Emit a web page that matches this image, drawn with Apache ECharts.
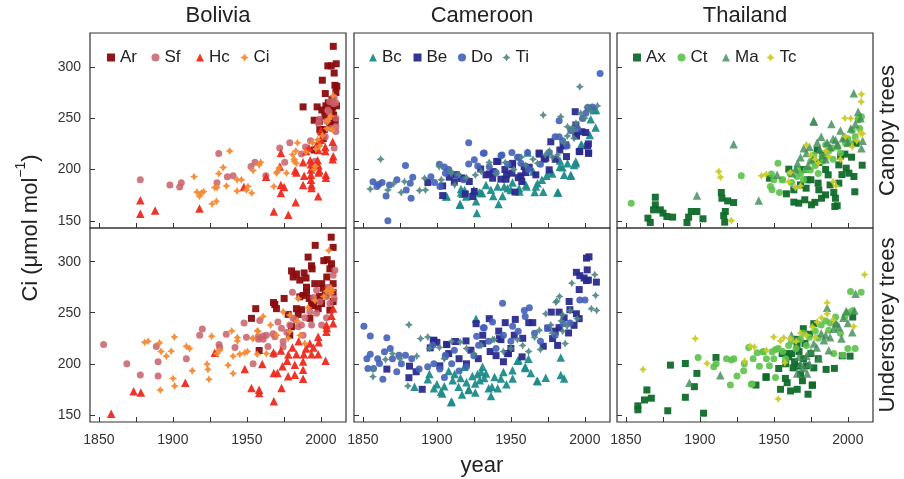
<!DOCTYPE html>
<html>
<head>
<meta charset="utf-8">
<script src="https://cdn.jsdelivr.net/npm/echarts@6/dist/echarts.min.js"></script>
<style>html,body{margin:0;padding:0;background:#fff}#c{width:904px;height:479px}</style>
</head>
<body>
<div id="c"></div>
<script>
// ---------- DATA ----------
const countries = ['Bolivia', 'Cameroon', 'Thailand'];
const rowLabels = ['Canopy trees', 'Understorey trees'];
const xTickValues = [1850, 1875, 1900, 1925, 1950, 1975, 2000];
const xLabelValues = [1850, 1900, 1950, 2000];
const yTickValues = [150, 200, 250, 300];

const bolivaNames = ['Ar', 'Sf', 'Hc', 'Ci'];
const cameroonNames = ['Bc', 'Be', 'Do', 'Ti'];
const thailandNames = ['Ax', 'Ct', 'Ma', 'Tc'];

// Bolivia canopy
const bolCanAr = [[2008.4,320],[2004.7,301],[2007,301],[2010.4,303],[2009,294],[2001,287],[2003,274],[2009.5,282],[2010.8,281],[2007.5,268],[1988,261],[1997.5,261],[2003.4,262],[2008,261],[2010.6,262],[2000.7,258],[1995.5,248],[1999,247],[2002.7,252],[1999.3,239],[2002.3,239],[2000.7,236],[1995.5,219],[2008.6,253],[2009.7,247],[2007.5,258],[2010.2,275],[2001.6,230],[2005,265],[2006,245]];
const bolCanSf = [[1878,190],[1898,185],[1905.7,187],[1904.6,183],[1931,215.5],[1929.8,187],[1936.8,193],[1940.7,194],[1952.8,203],[1955.5,207],[1962.8,194],[1972.2,221],[1975.6,207],[1979,226],[1986.9,215],[1989.6,222],[1998.4,245],[1999,249],[2004.7,258],[2009,270],[2010.2,265],[2008.6,264],[2010.2,250],[2010.2,242],[2010.2,237],[2009,221],[2005.6,256],[2004,247],[1996,208],[1999,226],[2003,232],[2007,240],[1993,228],[2006,266]];
const bolCanHc = [[1878,170],[1878,157],[1888,160],[1918,162],[1948,183],[1963,193],[1968.2,159],[1973,216],[1973,185],[1975.2,183],[1973,177],[1978,156],[1983,168],[1972.3,203],[1982.6,199],[1983.5,197],[1988.7,194],[1988,207],[1988,185],[1992.8,209],[1993.3,205],[1993.3,200],[1993.3,195],[1993.3,190],[1993.7,185],[1993.7,182],[1997.8,209],[1998.4,204],[1998.4,197],[1998.2,174],[2003,222],[2003,218],[2003.4,195],[2003.4,192],[2008,210],[2008.4,213],[2008,227],[2000,238],[1998.2,219],[2000,229],[1997.8,226],[1992,221],[1990,218],[1999,199]];
const bolCanCi = [[1914.3,193],[1916.3,178],[1918,174],[1919.2,177],[1920.8,178.5],[1926.5,166.5],[1929.4,169],[1928.3,182.5],[1929.8,182.5],[1931,196],[1934,202],[1938.4,218],[1936.2,184],[1943.4,179],[1943.4,190],[1946.3,190],[1949.7,180],[1950.8,183.5],[1953.3,177],[1954.2,199],[1958.3,204.5],[1959.4,207],[1968.2,183.5],[1970,196.5],[1970.7,198],[1971.8,201.5],[1976.8,196.5],[1984.2,226],[1983.1,218],[1980.8,214.5],[1982,210],[1982,208],[1983.5,206],[1989.9,217],[1994.4,226],[1996.6,220],[1997.8,229],[1995.5,200],[1996.2,203],[1999.3,223],[2004.5,247],[2005.2,249],[2006.8,252],[2008.4,272],[2007.9,239],[2001,233],[2004,240]];

// Bolivia understorey
const bolUndAr = [[2007,324],[2008.3,314],[1996.2,316],[1991.4,304.5],[1993.7,296],[1994.1,293],[2002,301],[2004.3,302],[2006.1,293],[2007.2,298],[1980.2,291],[1981.3,285],[1983.5,288],[1988.7,289],[1985.8,282],[1990.3,275],[1990.3,270],[1995.9,278.5],[2000.5,278.5],[2001.6,274],[2008.3,278.5],[2008.3,270],[1997,262],[2000.5,259],[1998.2,254],[2006.1,252.6],[1975.2,264],[1968.9,258],[1970,254],[1956,254],[1953.1,244.5],[1977.9,248.4],[1983.5,254],[1984.7,248.4],[1992.1,264],[1993.7,259],[1985.8,265.6],[1979,228],[1958.3,213],[1980.2,236.4],[1992.6,244.5],[2008.3,261],[1988,267],[1968,260],[1999,266],[2003,268],[1995,257],[1987,253],[2004,285],[1990,284]];
const bolUndSf = [[1853.2,219],[1868.9,200],[1878,189],[1888.8,217],[1890,202],[1890,188],[1909.1,205],[1919.9,234],[1918.1,228],[1931.2,219],[1931.6,216],[1936.1,229],[1942,216],[1948.1,240],[1949.7,226],[1954.2,200],[1957.8,224],[1958.7,242.5],[1961,224],[1963.2,228],[1964.3,217],[1968.2,209],[1967.7,229.5],[1974.5,216.6],[1957.6,226.6],[1961,227.3],[1968.9,226.6],[1973.4,234.7],[1979,238],[1981.3,244.5],[1984.7,236.4],[1986.9,238],[1989.2,245],[1992.6,251],[1997.1,249.4],[2000.5,238],[2003.8,245],[2006.1,259],[2009.5,291.5],[2008.3,286.7],[1997.1,272],[2003.8,265.6],[1999.3,260.7],[1974.5,221.8],[1980.8,270],[1993.7,238],[1988,228],[1977,231],[1983,243],[2005,275],[2009,264],[1995,265],[1971,241]];
const bolUndHc = [[1858.3,151],[1873.5,173],[1878.4,172],[1908.4,181.5],[1928.3,210.7],[1948.6,195],[1960.4,199.7],[1953.1,176.3],[1958.3,174.7],[1958.3,171.4],[1968.2,163.3],[1968.2,191],[1970.7,191],[1973.4,176.3],[1974.1,197.7],[1977.9,187.7],[1982.4,189.3],[1982.4,199],[1988,194.2],[1988,185.4],[1977.2,203],[1983.5,209.4],[1988.5,209.4],[1993.7,209.4],[1998.2,209.4],[1992.6,220],[1998.6,221],[2003.2,203],[2003.8,231.5],[2008.3,239.6],[2007.2,247],[2008.3,254.2],[2003.8,238],[1998.2,226.6],[1980.8,216],[1988,202.3],[1968,211],[1990,215],[1985,222],[1995,216],[2004,235],[1978,209],[1973,213]];
const bolUndCi = [[1880.9,221],[1883.2,222],[1891,220.5],[1892,212],[1891.5,174.4],[1895.6,207.5],[1898.9,212.4],[1901,226.3],[1900.1,185.7],[1901.2,178.3],[1909.1,217.2],[1911.3,215],[1913.1,193.2],[1923.1,199.7],[1923.7,194.5],[1924.4,184.8],[1926.2,227],[1929.8,210],[1931.6,213.3],[1937.3,198.7],[1939.8,232.2],[1940.7,207.5],[1940.7,190.6],[1943.6,222.4],[1943.6,225.7],[1945.2,209.4],[1948.6,210.7],[1950.4,212],[1954.2,224.7],[1957.6,231.8],[1961,246.4],[1963.2,210],[1957,232.2],[1957,209.4],[1953.8,225],[1974.5,251],[1979,247.7],[1984.7,264],[1984,242],[1977.9,225],[1991.4,255],[2003.8,271],[2006.8,274.4],[2007.9,272],[2005.4,311],[2006.8,268.8],[1989.2,220],[1979,231.5],[1970,228],[1966,238],[1996,262],[1986,228],[2002,266]];

// Cameroon canopy
const camCanBc = [[1906.7,174],[1915.7,166.5],[1927,157.5],[1926.5,169],[1930.5,177],[1941.7,166.5],[1938.1,174.3],[1916.4,177.6],[1918.7,180],[1919.8,173.7],[1928.7,177.6],[1933.2,185],[1944.4,174.3],[1945.5,183.4],[1951.1,187.3],[1955.8,178.5],[1960.2,185],[1966.1,178],[1971.9,178.2],[1982,177.6],[1916.3,181],[1917.4,176.3],[1915.6,165.6],[1929.8,177],[1936.5,180.2],[1941,183.5],[1947.8,181.8],[1955.6,181.8],[1960.6,183.5],[1961.3,216.5],[1965.1,198],[1966.9,183.5],[1968,186.7],[1974.1,193.8],[1975.9,198],[1981.5,177.6],[1983.1,208.7],[1984.9,202.2],[1986,194.8],[1990.5,193.8],[1992.7,204.5],[1993.9,206],[1997.9,224],[2003.3,233.7],[2007.3,241],[2006.2,258],[2004,249],[2007.6,258],[1997.4,224],[1993.9,207.7],[1990.5,194.7],[1988.3,206],[1983.1,202.8],[1906.2,173.7],[1925,180],[1950,180],[1971,190],[1978,196],[1958,190]];
const camCanBe = [[1893.9,187.3],[1903.9,174.6],[1903.9,184],[1908.4,192.5],[1911.8,188],[1917,191.6],[1919.2,176.3],[1924.2,173.7],[1929.6,200.5],[1941.3,208],[1935.4,195.7],[1946.7,190.5],[1952.8,178],[1951.2,206],[1959,202.8],[1969.2,215],[1972.5,210],[1977,227],[1987.1,224],[1987.6,212.6],[1993.5,256.3],[1994.4,232.6],[1998,236.8],[1996.2,217.4],[2001.9,223],[2002.6,215.8],[1916.3,191.5],[1921.9,188.3],[1925.3,178.6],[1933.2,194.8],[1937.7,191.5],[1940.4,207.8],[1943.3,190.6],[1947.1,194.8],[1951.1,204.5],[1950.7,196.4],[1956.8,193.8],[1957.4,188.3],[1962.4,202.2],[1966.9,194.8],[1969.1,216],[1973.6,211],[1975.9,199.7],[1983.1,219],[1985.3,223],[1993.9,243.4],[1993.9,233.7],[1996.6,217.5],[2000.6,236],[2002.4,225],[2002.4,216],[1960,197],[1946,200],[1938,198],[1980,210],[1913,195],[1955,192]];
const camCanDo = [[1856.8,188],[1860.8,185.6],[1863,187.3],[1859.5,183.4],[1868,185],[1865.7,174.3],[1866.9,150],[1878.8,204],[1882,186.7],[1883.7,192.5],[1879.3,180],[1882.6,172],[1898.4,187.3],[1901.7,205],[1905.1,202.4],[1905.8,196.3],[1902.1,183.4],[1914,194.7],[1921.5,226],[1921.5,205.4],[1927.6,203.5],[1931.4,215.8],[1935.4,202.8],[1944,214.2],[1950.7,216.5],[1955.6,212],[1956.8,206],[1961.3,216.5],[1975.9,216.5],[1982.6,232],[1982.6,247.5],[1990.5,237.8],[1998.4,249.8],[2001.9,260.5],[2005.2,261],[2010.3,293.5],[1925.3,209.4],[1932,216],[1943.3,213.6],[1954.5,212],[1979.9,232],[2000.6,254.7],[2002.8,259.6],[1985,228],[1995,240],[1988,223],[1970,205],[1962,200],[1948,205],[1940,197],[1918,190],[1896,193],[1873,190],[1908,200]];
const camCanTi = [[1855,181],[1862,210],[1866.9,180],[1870.7,186],[1875.9,177.6],[1878.1,188.2],[1888.3,179.5],[1892.3,180],[1891.7,191.5],[1901.7,202.8],[1909.6,196.3],[1926,194.7],[1946.2,206.7],[1971.9,253],[1973.3,214.2],[1983.7,251.4],[1988.3,241.7],[1992.1,237.8],[1997.2,254.7],[2008.5,262],[1996.6,280.6],[1991.6,241],[2001.7,260.6],[1992.7,230.4],[1988.2,232.7],[1981.5,214.2],[1935.4,206.8],[1909.6,198],[1903,190],[1915,195],[1920,192],[1930,198],[1940,196],[1952,200],[1960,204],[1965,210],[1968,206],[1976,218],[1978,212],[1986,226],[1994,245],[2000,250],[2004,257],[1957,212],[1912,185]];

// Cameroon understorey
const camUndBc = [[1884.9,177.6],[1893.9,184.8],[1903.6,171],[1910,163],[1921.6,174.4],[1926.5,244],[1935,176],[1936.6,168.5],[1941.1,176],[1951.2,185.7],[1954.5,203],[1959.8,196],[1968.1,183],[1973.6,186.3],[1983.7,206.2],[1983.7,189],[1986,185.7],[1909.6,162.3],[1902.8,172.7],[1910.7,184],[1914.7,177.6],[1918.5,197],[1921.5,175],[1925.9,180.8],[1927.5,190],[1930.9,197],[1933.2,190.6],[1937.2,177.6],[1943.3,185.7],[1951.1,193.8],[1955.2,203.6],[1959.7,197],[1961.9,205],[1963.5,191],[1967.7,183.4],[1895,190],[1900,180],[1905,178],[1912,190],[1916,186],[1920,182],[1924,188],[1929,184],[1932,186],[1939,187],[1945,192],[1947,180],[1898,176],[1908,193],[1917,170],[1926,172],[1930,192]];
const camUndBe = [[1866.2,194.8],[1881.5,197.7],[1881.1,186.4],[1886,192.2],[1890.1,175],[1895.5,215.6],[1898,223],[1900,221],[1906.7,218.8],[1912.6,221.8],[1919.7,222.4],[1926.5,239.3],[1931,228],[1931,219.8],[1935.4,244.2],[1941.8,232],[1942.3,224.7],[1946.2,240.3],[1947.8,210],[1953,243.5],[1957.6,206.8],[1962.1,240.3],[1964.8,240.3],[1971.9,217.2],[1977.3,250.6],[1978.2,224.7],[1981.6,218],[1982.6,235.4],[1989.4,261],[1989.9,253],[1989,230.2],[1992.7,237.7],[1994.3,249],[1996.2,244.2],[1994.3,289.6],[1996.6,286.3],[1999.5,284],[2001.1,303.5],[2002.8,304.8],[2001.6,292],[2001.1,281.5],[1996.2,272.7],[2002.4,282],[2007.8,280],[1897.6,223],[1906.6,219],[1923,213.3],[1943.3,223.7],[1948.4,210],[1952.3,228],[1982.6,250.6],[1902,198],[1908,210],[1915,205],[1920,200],[1928,205],[1936,212],[1940,208],[1945,202],[1950,215],[1958,225],[1975,235],[1980,232],[1986,245]];
const camUndDo = [[1850.7,236.7],[1855,227.3],[1852.7,205],[1855,209.4],[1853.4,195.5],[1857.2,195.5],[1861.2,200.3],[1863.5,184.8],[1866.2,225.6],[1864.6,211.7],[1868.5,215],[1872.9,192.2],[1874.4,208.4],[1878.8,208.4],[1897.2,218.2],[1905.8,208.4],[1926.9,227],[1931.4,235.4],[1944.4,259.4],[1951.2,236.7],[1959.1,252.3],[1962.5,255],[1996.6,262.6],[1932,235.4],[1937.6,241],[1928.2,218.2],[1911.8,213.3],[1905.7,206.8],[1893.8,197],[1905.1,186.7],[1950,222],[1959.7,246.4],[1985.3,239.3],[2000.1,262.6],[1870,205],[1876,200],[1883,205],[1888,195],[1898,200],[1902,195],[1910,200],[1915,193],[1920,197],[1925,208],[1935,222],[1940,215],[1945,228],[1955,232],[1966,230],[1970,222],[1975,235],[1980,228],[1990,240],[1860,205]];
const camUndTi = [[1856.8,194.5],[1856.8,187.4],[1865.3,204.2],[1880.4,178.3],[1881.1,238.3],[1886.4,207.5],[1889,224.7],[1893.9,226.3],[1901.7,216],[1915.7,221.4],[1937.7,223.7],[1954.5,223.7],[1969.2,232.8],[1973.6,249],[1981.1,261.4],[1982.9,266],[1986.7,219.8],[1991.2,279],[1994.9,244.2],[2006.7,287.3],[2007.3,267],[2004.4,254],[2008,252.3],[1938.8,223.7],[1980.4,260.4],[1870,210],[1875,205],[1895,215],[1905,205],[1910,222],[1920,215],[1925,210],[1930,218],[1945,212],[1950,215],[1958,218],[1962,212],[1966,226],[1977,238],[1984,242],[1985,232],[1988,237],[1978,230],[1985,248],[1970,214],[1990,252]];

// Thailand canopy
const thaCanAx = [[1864.9,152.6],[1866.5,148.4],[1868.7,160.7],[1869.9,165.6],[1869.9,173],[1873.3,160.7],[1875.1,157.5],[1877.7,154.2],[1881.6,153.6],[1891.3,148.4],[1892.4,153.6],[1894.2,159.1],[1898,159.1],[1902.1,152],[1914.5,177.6],[1914.9,172],[1916.1,155],[1917.2,159.1],[1916.8,148.7],[1918.8,169.4],[1922.8,167.8],[1947,191.5],[1960.1,200.3],[1963.5,180.2],[1958.5,176.3],[1963.5,168.2],[1966.8,167.2],[1970.9,170.5],[1971.8,181.8],[1975.4,165.6],[1977.7,168],[1979.9,186.7],[1980.4,180.2],[1982.2,172],[1984.9,175.3],[1986.7,194.8],[1990.5,177.6],[1991.6,172],[1991.2,164],[1992.8,164.7],[1993.9,186.7],[1993.9,204.5],[1995.1,212.6],[1998.9,201.3],[2000.7,196.4],[2004.1,193.2],[2002.5,212],[2005.6,225.5],[2009.7,204.2],[2004.7,178.3],[1972.5,190],[1980.4,206.8],[1979.3,219],[1968,185],[1975,190],[1985,200],[1988,185],[1996,195],[1970,200],[1983,215],[1998,215]];
const thaCanCt = [[1853.6,167.2],[1928,193.8],[1952.8,206],[1948.4,195.7],[1947.7,183.4],[1953.8,177.6],[1955.6,190],[1962,187.3],[1950,190],[1948.8,180.2],[1956,190],[1965.7,193.2],[1974.7,199.6],[1982.6,212.6],[1985.3,213.2],[1989.4,220.7],[1998.4,225.6],[2001.8,225],[2007,248.2],[2009.2,251.5],[2007,249.7],[1968,196],[1970,190],[1972,200],[1975,208],[1978,204],[1980,196],[1983,208],[1987,218],[1990,210],[1993,222],[1995,216],[2000,230],[2003,238],[2005,232],[1966,200],[1961,196],[1977,214],[1985,224],[2008,240]];
const thaCanMa = [[1898,174.6],[1922.8,224.5],[1939.8,169.8],[1976.9,247.5],[1988.9,244.3],[2004,274.4],[1952.2,194.8],[1964.6,200.3],[1970.2,220.7],[1977,246.6],[1979.3,226.2],[1986,226.2],[1991.7,228.8],[1996.6,230.4],[2007,256.3],[2008.6,250],[2009.2,220.7],[1962.3,196.4],[1968,212],[1972,216],[1974,222],[1976,210],[1981,220],[1983,214],[1985,210],[1988,222],[1990,230],[1993,224],[1995,238],[1998,232],[2000,226],[2002,240],[2005,244],[2010,228],[1973,204],[1966,206],[1982,232]];
const thaCanTc = [[1912.8,198],[1913.9,192.5],[1921.3,150.3],[1941.6,193.8],[1944.7,195.4],[1961.2,197],[1964.6,182.5],[2001.9,249.8],[2009.2,273.3],[2009,266],[1998,250],[1998.4,232],[2008.6,235.3],[1960,188],[1968,184],[1972,224],[1975,214],[1978,210],[1980,206],[1985,218],[1987,213],[1990,188],[1992,184],[1995,210],[2003,222],[2006,228],[2010,235]];

// Thailand understorey
const thaUndAx = [[1858.1,155],[1858.1,158.8],[1862.6,164.6],[1864.2,174.4],[1867.2,166.3],[1878.3,154],[1880.1,198.7],[1890.2,200.3],[1890.2,167.2],[1896.3,177.6],[1898,190.6],[1902.5,151.6],[1910.9,206.2],[1937.9,179.2],[1944.8,187.4],[1954.5,175],[1959,181.5],[1961.3,173.4],[1965.8,175],[1969.3,183.4],[1973.1,170.2],[1976.1,179.2],[1969.9,234.4],[1977,239.3],[1990.9,195.5],[2001.5,207.5],[2003.3,245.8],[1955.6,210],[1960.1,206.8],[1965.7,217.2],[1966.4,197.7],[1974.1,229],[1957.8,185.7],[1944.7,186.7],[1975.9,179],[1985.3,194.5],[1996.2,207.8],[1953.3,195.4],[1958,200],[1962,210],[1964,202],[1967,212],[1970,205],[1972,198],[1975,210],[1971,220],[1968,190],[1963,196],[1977,196],[1980,205],[1958,210],[1966,224]];
const thaUndCt = [[1898.8,206.2],[1909.4,197],[1921.3,203.6],[1920.6,179.2],[1925.1,188],[1929.6,193.2],[1934.8,180],[1933,215.9],[1938.7,210.7],[1943.2,211.7],[1951.1,214],[1991.7,245.8],[2001.8,270.8],[2009,270.1],[2004.9,215],[1996.4,208.4],[1987.1,232.8],[1948.8,211.7],[1942.5,211.7],[1940.2,197.7],[1935.3,180.2],[1951.1,186.7],[1990.5,210],[2000,215],[1911,200],[1918,205],[1923,205],[1930,200],[1936,205],[1945,205],[1947,198],[1953,215],[1956,212],[1960,218],[1962,222],[1965,215],[1968,224],[1970,230],[1974,226],[1978,232],[1982,238],[1985,242],[1988,240],[1992,238],[1995,230],[1998,246],[2000,250],[2003,252],[1958,205],[1950,205],[1972,218],[1980,225]];
const thaUndMa = [[1892.9,181.5],[1913.8,188.9],[1986,255],[2004.4,252.3],[2003,231],[2005.2,268.5],[1961.9,228],[1972.5,190.6],[1965.7,190.6],[1980.4,205.2],[1983.8,223],[1987.1,213.3],[1990.5,234.4],[1995.7,224.7],[1998.9,251.6],[1968,200],[1970,196],[1972,208],[1975,212],[1977,220],[1979,216],[1982,230],[1985,228],[1988,226],[1992,240],[1994,236],[1997,245],[2000,240],[1967,207],[1974,200]];
const thaUndTc = [[1861.6,194.5],[1896.9,224.7],[1904.8,200.3],[1930.3,202.6],[1934.1,217.2],[1949.9,226.3],[1952.9,165.6],[1956.7,225.6],[1986,259.7],[2011.3,287.3],[1954.4,222.4],[1961.2,224.7],[1979.3,241],[1982.2,245],[1986,249],[2004,236.6],[1957.4,201],[1936.8,216.5],[1945,213],[1965,222],[1968,230],[1972,228],[1976,236],[1978,226],[1990,243]];

// ---------- STYLE ----------
const FONT = 'Liberation Sans, Arial, Helvetica, sans-serif';
const STAR = 'path://M5 0L6.8 3.2L10 5L6.8 6.8L5 10L3.2 6.8L0 5L3.2 3.2Z';
const countrySpecies = [
  {names: bolivaNames,
   colors: ['#8b0a0c', '#c8606a', '#ee2a1e', '#f58a32'],
   symbols: ['rect', 'circle', 'triangle', STAR],
   data: [[bolCanAr, bolCanSf, bolCanHc, bolCanCi], [bolUndAr, bolUndSf, bolUndHc, bolUndCi]]},
  {names: cameroonNames,
   colors: ['#1e8c8a', '#2a2a8e', '#4360b8', '#4f8584'],
   symbols: ['triangle', 'rect', 'circle', STAR],
   data: [[camCanBc, camCanBe, camCanDo, camCanTi], [camUndBc, camUndBe, camUndDo, camUndTi]]},
  {names: thailandNames,
   colors: ['#0f6a2a', '#5cc24a', '#3f8a55', '#c9cc26'],
   symbols: ['rect', 'circle', 'triangle', STAR],
   data: [[thaCanAx, thaCanCt, thaCanMa, thaCanTc], [thaUndAx, thaUndCt, thaUndMa, thaUndTc]]}
];
const symSize = {rect: 7, circle: 7, triangle: 8.5};
const opac = [[0.95, 0.85, 0.95, 0.95], [0.95, 0.95, 0.9, 0.9], [0.95, 0.9, 0.8, 0.95]];

const colLeft = [90, 354, 617];
const legendOffset = [17, 15, 16];
const W = 256;
const rowTop = [33, 228];
const rowH = [195, 194];

const grids = [], xAxes = [], yAxes = [], series = [], legends = [];
for (let r = 0; r < 2; r++) {
  for (let c = 0; c < 3; c++) {
    const i = r * 3 + c;
    grids.push({left: colLeft[c], top: rowTop[r], width: W, height: rowH[r], show: true,
      borderColor: '#333', borderWidth: 1.2, backgroundColor: 'transparent', containLabel: false});
    xAxes.push({type: 'value', gridIndex: i, min: 1844, max: 2017,
      axisLine: {show: false}, splitLine: {show: false},
      axisTick: {show: true, inside: true, length: 5, customValues: xTickValues, lineStyle: {color: '#333', width: 1}},
      axisLabel: {show: r === 1, customValues: xLabelValues, formatter: v => String(v),
        fontSize: 14, color: '#333', fontFamily: FONT, margin: 11}});
    yAxes.push({type: 'value', gridIndex: i, min: 143, max: 333,
      axisLine: {show: false}, splitLine: {show: false},
      axisTick: {show: true, inside: true, length: 5, customValues: yTickValues, lineStyle: {color: '#333', width: 1}},
      axisLabel: {show: c === 0, customValues: yTickValues, formatter: v => String(v),
        fontSize: 14, color: '#333', fontFamily: FONT, margin: 9}});
    const sp = countrySpecies[c];
    for (let k = 0; k < 4; k++) {
      const sym = sp.symbols[k];
      series.push({type: 'scatter', name: sp.names[k], xAxisIndex: i, yAxisIndex: i,
        data: sp.data[r][k], symbol: sym, symbolSize: symSize[sym] || 8,
        itemStyle: {color: sp.colors[k], opacity: opac[c][k]},
        silent: true, animation: false});
    }
  }
}
// one legend entry per species, evenly spaced like the reference
for (let c = 0; c < 3; c++) {
  countrySpecies[c].names.forEach((n, k) => {
    legends.push({left: colLeft[c] + legendOffset[c] + k * 44.5, top: 49, padding: 0,
      itemWidth: 8, itemHeight: 8, selectedMode: false,
      textStyle: {fontSize: 17, color: '#222', fontFamily: FONT},
      data: [{name: n}]});
  });
}

const titleTexts = countries.map((t, c) => ({type: 'text', x: colLeft[c] + W / 2, y: 16,
  style: {text: t, fontSize: 22, fontFamily: FONT, fill: '#222', align: 'center', verticalAlign: 'middle'}}));
const rowTexts = rowLabels.map((t, r) => ({type: 'text', x: 888, y: rowTop[r] + rowH[r] / 2, rotation: Math.PI / 2,
  style: {text: t, fontSize: 22, fontFamily: FONT, fill: '#222', align: 'center', verticalAlign: 'middle'}}));

const chart = echarts.init(document.getElementById('c'), null, {renderer: 'canvas'});
chart.setOption({
  backgroundColor: '#fff',
  animation: false,
  grid: grids, xAxis: xAxes, yAxis: yAxes, series: series, legend: legends,
  graphic: [].concat(titleTexts, rowTexts, [
    {type: 'text', x: 482, y: 466,
      style: {text: 'year', fontSize: 22, fontFamily: FONT, fill: '#222', align: 'center', verticalAlign: 'middle'}},
    {type: 'text', x: 28, y: 228, rotation: Math.PI / 2,
      style: {text: '{a|Ci (μmol mol}{s|−1}{a|)}', align: 'center', verticalAlign: 'middle', fill: '#222',
        rich: {a: {fontSize: 22, fontFamily: FONT, fill: '#222', lineHeight: 27, verticalAlign: 'bottom'},
               s: {fontSize: 14, fontFamily: FONT, fill: '#222', lineHeight: 15, verticalAlign: 'top'}}}}
  ])
});
</script>
</body>
</html>
